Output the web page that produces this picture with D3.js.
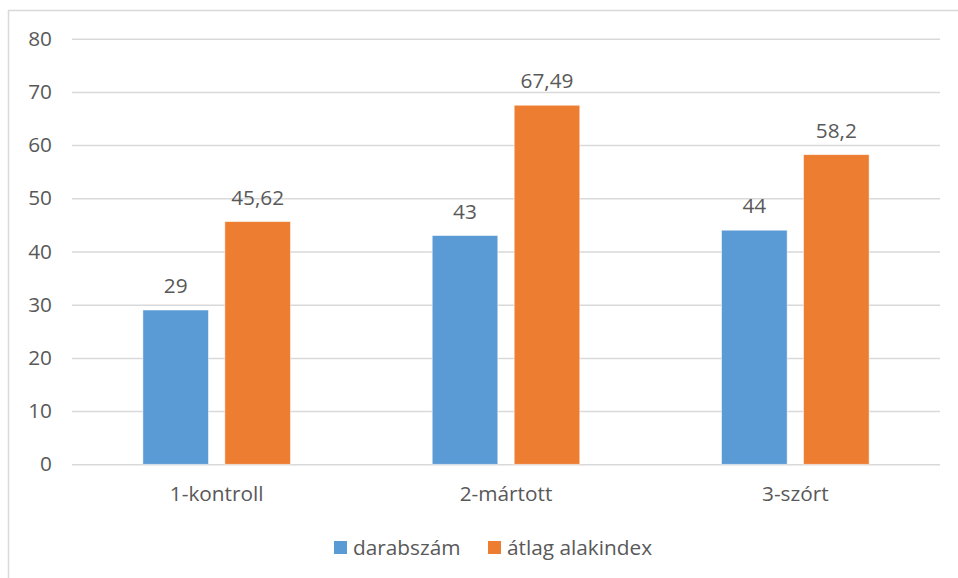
<!DOCTYPE html>
<html>
<head>
<meta charset="utf-8">
<script src="https://cdn.jsdelivr.net/npm/d3@7"></script>
<style>
  html, body { margin: 0; padding: 0; background: #fff; overflow: hidden; }
  svg { display: block; }
  text { font-family: "Open Sans", sans-serif; fill: #595959; }
</style>
</head>
<body>
<script>
// Chart data
const categories = ["1-kontroll", "2-mártott", "3-szórt"];
const seriesNames = ["darabszám", "átlag alakindex"];
const darabszam = [29, 43, 44];
const atlagAlakindex = [45.62, 67.49, 58.2];
const valueLabels = [["29", "43", "44"], ["45,62", "67,49", "58,2"]];
const yTicks = [0, 10, 20, 30, 40, 50, 60, 70, 80];
const colors = ["#5B9BD5", "#ED7D31"];

const W = 958, H = 578;
const FS = 20.8;
const plot = { left: 72, right: 940, top: 38.7, bottom: 464.3 };

const svg = d3.select("body").append("svg").attr("width", W).attr("height", H);

// Outer chart frame
svg.append("rect")
  .attr("x", 8.5).attr("y", 10.5)
  .attr("width", 1000).attr("height", 700)
  .attr("fill", "none").attr("stroke", "#d9d9d9").attr("stroke-width", 1.5);

const y = d3.scaleLinear().domain([0, 80]).range([plot.bottom, plot.top]);
const x0 = d3.scaleBand().domain(categories).range([plot.left, plot.right])
  .paddingInner(0.49).paddingOuter(0.245);
const x1 = d3.scaleBand().domain(seriesNames).range([0, x0.bandwidth()])
  .paddingInner(0.2).paddingOuter(0);

// Gridlines and y-axis labels
const yAxis = d3.axisLeft(y).tickValues(yTicks).tickSize(-(plot.right - plot.left)).tickPadding(20);
const gy = svg.append("g").attr("transform", `translate(${plot.left},0)`).call(yAxis);
gy.select(".domain").remove();
gy.selectAll(".tick line").attr("stroke", "#d9d9d9").attr("stroke-width", 1.5);
gy.selectAll(".tick text").attr("font-size", FS).attr("fill", "#595959")
  .style("font-family", "'Open Sans', sans-serif");

// Category axis labels
const xAxis = d3.axisBottom(x0).tickSize(0).tickPadding(22);
const gx = svg.append("g").attr("transform", `translate(0,${plot.bottom})`).call(xAxis);
gx.select(".domain").remove();
gx.selectAll(".tick text").attr("font-size", FS).attr("fill", "#595959")
  .style("font-family", "'Open Sans', sans-serif");

// Bars
const series = [darabszam, atlagAlakindex];
series.forEach((vals, si) => {
  const g = svg.append("g");
  g.selectAll("rect").data(vals).join("rect")
    .attr("x", (d, i) => x0(categories[i]) + x1(seriesNames[si]))
    .attr("y", d => y(d))
    .attr("width", x1.bandwidth())
    .attr("height", d => y(0) - y(d))
    .attr("fill", colors[si])
    .attr("stroke", "#ffffff").attr("stroke-opacity", 0.6).attr("stroke-width", 0.8);
  g.selectAll("text").data(vals).join("text")
    .attr("x", (d, i) => x0(categories[i]) + x1(seriesNames[si]) + x1.bandwidth() / 2)
    .attr("y", d => y(d) - 17)
    .attr("text-anchor", "middle")
    .attr("font-size", FS)
    .text((d, i) => valueLabels[si][i]);
});

// Legend
const legend = [
  { name: seriesNames[0], color: colors[0], x: 334 },
  { name: seriesNames[1], color: colors[1], x: 488 }
];
const lg = svg.append("g");
legend.forEach(l => {
  lg.append("rect").attr("x", l.x).attr("y", 541).attr("width", 13).attr("height", 13).attr("fill", l.color);
  lg.append("text").attr("x", l.x + 19).attr("y", 555).attr("font-size", FS).text(l.name);
});
</script>
</body>
</html>
